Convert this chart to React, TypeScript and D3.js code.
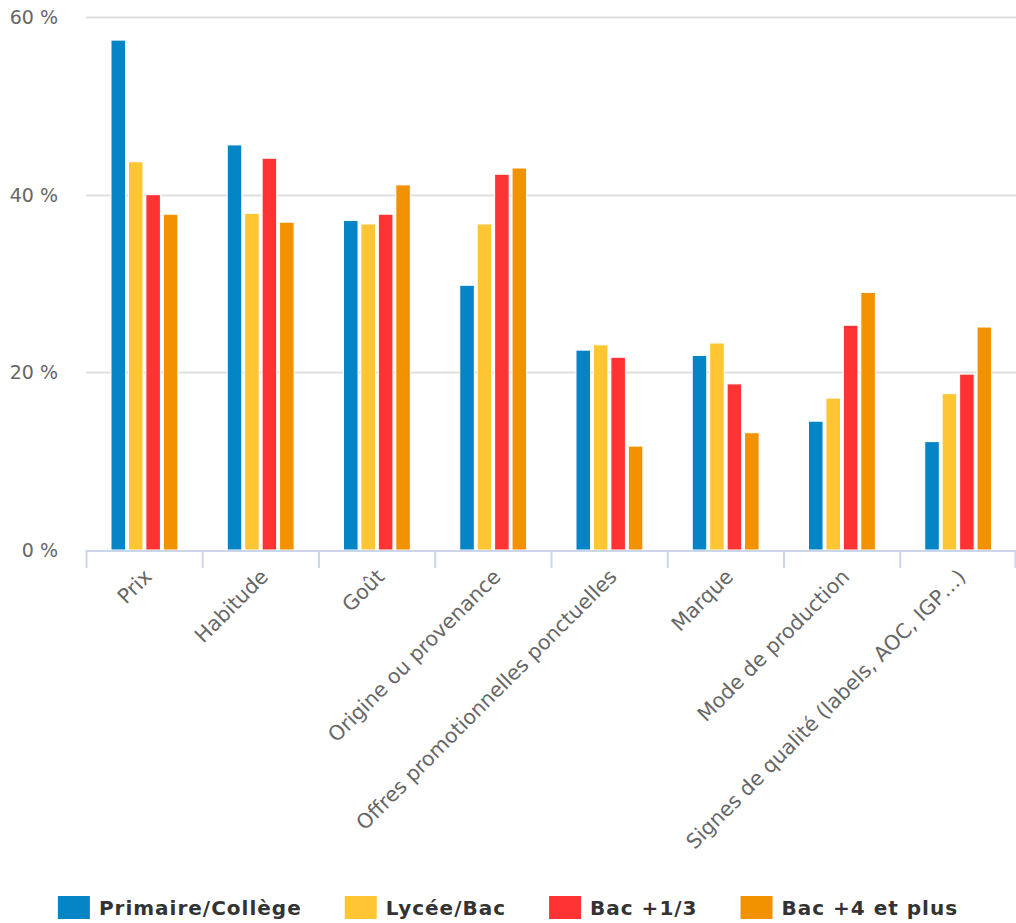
import React, { useEffect, useRef } from "react";
import * as d3 from "d3";

const categories = [
  "Prix",
  "Habitude",
  "Goût",
  "Origine ou provenance",
  "Offres promotionnelles ponctuelles",
  "Marque",
  "Mode de production",
  "Signes de qualité (labels, AOC, IGP…)",
];
const seriesNames = ["Primaire/Collège", "Lycée/Bac", "Bac +1/3", "Bac +4 et plus"];
const primaireCollege = [57.4, 45.6, 37.1, 29.8, 22.5, 21.9, 14.5, 12.2];
const lyceeBac = [43.7, 37.9, 36.7, 36.7, 23.1, 23.3, 17.1, 17.6];
const bac13 = [40.0, 44.1, 37.8, 42.3, 21.7, 18.7, 25.3, 19.8];
const bac4plus = [37.8, 36.9, 41.1, 43.0, 11.7, 13.2, 29.0, 25.1];
const yTicks = [0, 20, 40, 60];
const colors = ["#0585c5", "#ffc533", "#ff3334", "#f39200"];

export default function App() {
  const ref = useRef<SVGSVGElement>(null);
  useEffect(() => {
    document.body.style.margin = "0";
    const W = 1016;
    const left = 86, right = 1016, top = 17, bottom = 550;
    const svg = d3.select(ref.current!);
    svg.selectAll("*").remove();
    const font = "'DejaVu Sans', Verdana, sans-serif";

    const x = d3.scaleBand<string>().domain(categories).range([left, right]);
    const y = d3.scaleLinear().domain([0, 60]).range([bottom, top]);
    const data = [primaireCollege, lyceeBac, bac13, bac4plus];
    const bw = x.bandwidth();
    // Highcharts-like grouping: groupPadding 0.2, pointPadding 0.1
    const slot = (bw * 0.6) / data.length;

    // gridlines
    svg
      .append("g")
      .selectAll("line")
      .data(yTicks.filter((t) => t > 0))
      .join("line")
      .attr("x1", left)
      .attr("x2", right)
      .attr("y1", (d) => Math.round(y(d)) + 0.5)
      .attr("y2", (d) => Math.round(y(d)) + 0.5)
      .attr("stroke", "#e0e0e0")
      .attr("stroke-width", 2);

    // y labels
    svg
      .append("g")
      .selectAll("text")
      .data(yTicks)
      .join("text")
      .attr("x", 58)
      .attr("y", (d) => y(d) + 7)
      .attr("text-anchor", "end")
      .attr("font-family", font)
      .attr("font-size", 19)
      .attr("fill", "#666666")
      .text((d) => `${d} %`);

    // bars
    data.forEach((vals, si) => {
      svg
        .append("g")
        .selectAll("rect")
        .data(vals)
        .join("rect")
        .attr("x", (_, i) => x(categories[i])! + bw * 0.2 + si * slot + slot * 0.1)
        .attr("width", slot * 0.8 + 0.6)
        .attr("y", (d) => y(d))
        .attr("height", (d) => bottom - y(d))
        .attr("fill", colors[si])
        .attr("stroke", "#ffffff")
        .attr("stroke-width", 1);
    });

    // x axis line & ticks
    svg
      .append("line")
      .attr("x1", left)
      .attr("x2", right)
      .attr("y1", bottom + 1)
      .attr("y2", bottom + 1)
      .attr("stroke", "#ccd6eb")
      .attr("stroke-width", 2);
    const tickPos = categories.map((c) => x(c)!).concat([right]);
    svg
      .append("g")
      .selectAll("line")
      .data(tickPos)
      .join("line")
      .attr("x1", (d) => Math.min(d, right - 1) + 0.5)
      .attr("x2", (d) => Math.min(d, right - 1) + 0.5)
      .attr("y1", bottom)
      .attr("y2", bottom + 18)
      .attr("stroke", "#ccd6eb")
      .attr("stroke-width", 2);

    // x labels
    svg
      .append("g")
      .selectAll("text")
      .data(categories)
      .join("text")
      .attr("transform", (d) => `translate(${x(d)! + bw / 2 + 9},${bottom + 28}) rotate(-45)`)
      .attr("text-anchor", "end")
      .attr("font-family", font)
      .attr("font-size", 20.5)
      .attr("fill", "#666666")
      .text((d) => d);

    // legend
    const lg = svg.append("g");
    const items = seriesNames.map((n, i) => {
      const g = lg.append("g");
      g.append("rect").attr("x", 0).attr("y", -11.5).attr("width", 32).attr("height", 23).attr("fill", colors[i]);
      const t = g
        .append("text")
        .attr("x", 41)
        .attr("y", 7.5)
        .attr("font-family", font)
        .attr("font-weight", "bold")
        .attr("font-size", 20)
        .attr("letter-spacing", 1)
        .attr("fill", "#333333")
        .text(n);
      const w = 41 + (t.node() as SVGTextElement).getComputedTextLength();
      return { g, w };
    });
    const gap = 43;
    const total = d3.sum(items, (d) => d.w) + gap * (items.length - 1);
    let cx = W / 2 - total / 2;
    items.forEach((it) => {
      it.g.attr("transform", `translate(${cx},${907.5})`);
      cx += it.w + gap;
    });
  }, []);
  return (
    <svg
      ref={ref}
      width={1016}
      height={923}
      style={{ position: "absolute", left: 0, top: 0, background: "#ffffff" }}
    />
  );
}
